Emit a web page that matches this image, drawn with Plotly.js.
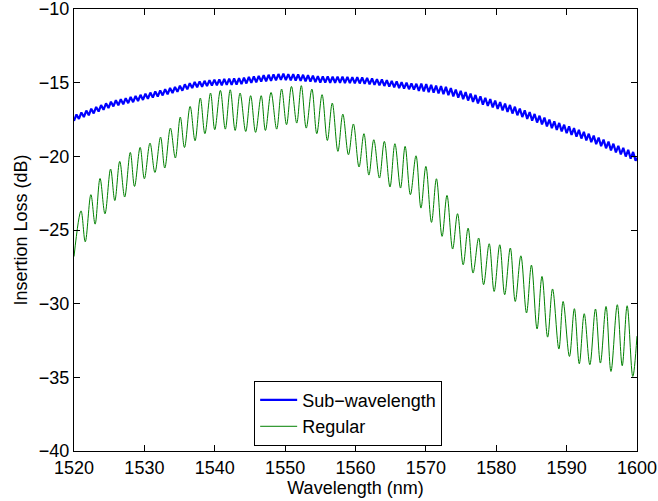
<!DOCTYPE html>
<html>
<head>
<meta charset="utf-8">
<script src="https://cdn.plot.ly/plotly-3.0.1.min.js"></script>
<style>html,body{margin:0;padding:0;background:#fff;}#chart{width:658px;height:501px;}</style>
</head>
<body>
<div id="chart"></div>
<script>
// Sub-wavelength grating coupler: wavelength (nm) and insertion loss (dB), alternating troughs/peaks
const subWavelengthNm = [
1520,1520.35,1520.7,1521.05,1521.4,1521.75,1522.1,1522.45,1522.8,1523.15,1523.5,1523.85,1524.2,1524.55,1524.9,1525.25,1525.6,1525.95,1526.3,1526.65,
1527,1527.35,1527.7,1528.05,1528.4,1528.75,1529.1,1529.45,1529.8,1530.15,1530.5,1530.85,1531.2,1531.55,1531.9,1532.25,1532.6,1532.95,1533.3,1533.65,
1534,1534.35,1534.7,1535.05,1535.4,1535.75,1536.1,1536.45,1536.8,1537.15,1537.5,1537.85,1538.2,1538.55,1538.9,1539.25,1539.6,1539.95,1540.3,1540.65,
1541,1541.35,1541.7,1542.05,1542.4,1542.75,1543.1,1543.45,1543.8,1544.15,1544.5,1544.85,1545.2,1545.55,1545.9,1546.25,1546.6,1546.95,1547.3,1547.65,
1548,1548.35,1548.7,1549.05,1549.4,1549.75,1550.1,1550.45,1550.8,1551.15,1551.5,1551.85,1552.2,1552.55,1552.9,1553.25,1553.6,1553.95,1554.3,1554.65,
1555,1555.35,1555.7,1556.05,1556.4,1556.75,1557.1,1557.45,1557.8,1558.15,1558.5,1558.85,1559.2,1559.55,1559.9,1560.25,1560.6,1560.95,1561.3,1561.65,
1562,1562.35,1562.7,1563.05,1563.4,1563.75,1564.1,1564.45,1564.8,1565.15,1565.5,1565.85,1566.2,1566.55,1566.9,1567.25,1567.6,1567.95,1568.3,1568.65,
1569,1569.35,1569.7,1570.05,1570.4,1570.75,1571.1,1571.45,1571.8,1572.15,1572.5,1572.85,1573.2,1573.55,1573.9,1574.25,1574.6,1574.95,1575.3,1575.65,
1576,1576.35,1576.7,1577.05,1577.4,1577.75,1578.1,1578.45,1578.8,1579.15,1579.5,1579.85,1580.2,1580.55,1580.9,1581.25,1581.6,1581.95,1582.3,1582.65,
1583,1583.35,1583.7,1584.05,1584.4,1584.75,1585.1,1585.45,1585.8,1586.15,1586.5,1586.85,1587.2,1587.55,1587.9,1588.25,1588.6,1588.95,1589.3,1589.65,
1590,1590.35,1590.7,1591.05,1591.4,1591.75,1592.1,1592.45,1592.8,1593.15,1593.5,1593.85,1594.2,1594.55,1594.9,1595.25,1595.6,1595.95,1596.3,1596.65,
1597,1597.35,1597.7,1598.05,1598.4,1598.75,1599.1,1599.45,1599.8,1600
];
const subWavelengthDb = [
-17.59,-17.15,-17.46,-17.02,-17.33,-16.89,-17.21,-16.76,-17.08,-16.64,-16.96,-16.52,-16.84,-16.40,-16.72,-16.29,-16.61,-16.19,-16.53,-16.12,
-16.46,-16.05,-16.39,-15.97,-16.32,-15.90,-16.24,-15.82,-16.17,-15.75,-16.09,-15.67,-16.01,-15.59,-15.94,-15.52,-15.86,-15.44,-15.78,-15.36,
-15.70,-15.29,-15.62,-15.20,-15.54,-15.11,-15.45,-15.03,-15.36,-14.95,-15.31,-14.91,-15.27,-14.87,-15.23,-14.83,-15.19,-14.79,-15.17,-14.78,
-15.17,-14.74,-15.15,-14.72,-15.14,-14.71,-15.12,-14.69,-15.09,-14.65,-15.05,-14.61,-15.01,-14.57,-14.97,-14.53,-14.93,-14.49,-14.90,-14.46,
-14.87,-14.43,-14.84,-14.41,-14.81,-14.39,-14.82,-14.41,-14.83,-14.42,-14.85,-14.44,-14.87,-14.46,-14.90,-14.49,-14.93,-14.52,-14.96,-14.55,
-14.99,-14.57,-14.99,-14.57,-15.00,-14.58,-15.00,-14.59,-15.01,-14.59,-15.02,-14.60,-15.03,-14.62,-15.04,-14.63,-15.05,-14.64,-15.08,-14.67,
-15.11,-14.71,-15.15,-14.75,-15.18,-14.78,-15.22,-14.82,-15.26,-14.87,-15.31,-14.91,-15.36,-14.96,-15.40,-15.00,-15.44,-15.04,-15.47,-15.07,
-15.56,-15.06,-15.59,-15.09,-15.64,-15.14,-15.68,-15.19,-15.73,-15.23,-15.78,-15.28,-15.84,-15.36,-15.93,-15.46,-16.02,-15.55,-16.12,-15.64,
-16.21,-15.74,-16.30,-15.83,-16.40,-15.92,-16.49,-16.02,-16.58,-16.11,-16.68,-16.21,-16.78,-16.31,-16.88,-16.41,-16.98,-16.51,-17.09,-16.63,
-17.21,-16.75,-17.33,-16.87,-17.45,-16.99,-17.57,-17.12,-17.70,-17.24,-17.83,-17.37,-17.96,-17.50,-18.08,-17.62,-18.20,-17.73,-18.31,-17.85,
-18.43,-17.96,-18.54,-18.08,-18.66,-18.20,-18.79,-18.33,-18.92,-18.46,-19.04,-18.59,-19.17,-18.72,-19.31,-18.86,-19.45,-19.00,-19.59,-19.14,
-19.73,-19.28,-19.87,-19.42,-20.01,-19.56,-20.15,-19.70,-20.29,-20.10
];

// Regular grating coupler: wavelength (nm) and insertion loss (dB) at fringe peaks/troughs
const regularNm = [
1520,1521,1521.6,1522.4,1523,1523.7,1524.4,1525.2,1525.8,1526.5,1527.2,1528,1528.6,1529.4,1530,1530.8,1531.5,1532.3,1532.9,1533.7,
1534.4,1535.1,1535.7,1536.5,1537.2,1537.95,1538.6,1539.4,1540,1540.8,1541.5,1542.2,1542.9,1543.6,1544.4,1545.1,1545.8,1546.6,1547.2,1548,
1548.8,1549.5,1550.2,1550.9,1551.65,1552.3,1553,1553.8,1554.5,1555.25,1556,1556.7,1557.5,1558.2,1559,1559.7,1560.5,1561.2,1561.9,1562.6,
1563.4,1564.1,1564.9,1565.6,1566.4,1567.05,1567.8,1568.6,1569.3,1570,1570.8,1571.5,1572.3,1573,1573.8,1574.5,1575.3,1576,1576.7,1577.5,
1578.2,1579,1579.7,1580.5,1581.2,1582,1582.7,1583.5,1584.3,1585,1585.8,1586.5,1587.3,1588,1588.9,1589.5,1590.4,1591.1,1591.8,1592.5,
1593.3,1594.1,1594.8,1595.6,1596.3,1597.2,1597.9,1598.6,1599.4,1600
];
const regularDb = [
-26.8,-23.7,-25.8,-22.6,-24.6,-21.5,-23.9,-20.86,-23.0,-20.34,-22.76,-19.73,-22.04,-19.39,-21.52,-19.1,-21.09,-18.69,-20.79,-18.08,
-20.11,-17.33,-19.4,-16.61,-18.94,-16.04,-18.46,-15.7,-18.19,-15.52,-18.15,-15.48,-18.24,-15.7,-18.31,-15.88,-18.37,-15.88,-18.24,-15.66,
-18.15,-15.43,-17.85,-15.25,-17.74,-15.2,-18.08,-15.43,-18.46,-15.81,-18.92,-16.38,-19.66,-17.13,-19.89,-17.8,-20.72,-18.46,-21.27,-18.87,
-21.47,-18.98,-22.08,-19.14,-22.15,-19.32,-22.6,-19.96,-23.51,-20.68,-24.48,-21.52,-25.43,-22.65,-26.29,-23.89,-27.36,-24.87,-27.92,-25.54,
-28.71,-25.93,-29.17,-26.0,-29.39,-26.22,-29.85,-26.75,-30.63,-27.38,-31.72,-28.15,-32.27,-29.0,-33.08,-29.85,-33.58,-30.34,-34.08,-30.68,
-34.14,-30.36,-34.03,-30.19,-34.6,-30.07,-34.21,-30.14,-34.94,-32.2
];

const seriesNames = ['Sub\u2212wavelength', 'Regular'];
const xTicks = [1520,1530,1540,1550,1560,1570,1580,1590,1600];
const yTicks = [-40,-35,-30,-25,-20,-15,-10];

const FONT = 'Liberation Sans, Arial, Helvetica, sans-serif';

const traces = [
  {x: subWavelengthNm, y: subWavelengthDb, name: seriesNames[0], type: 'scatter', mode: 'lines',
   line: {color: '#0000ff', width: 2.2, shape: 'linear'}},
  {x: regularNm, y: regularDb, name: seriesNames[1], type: 'scatter', mode: 'lines',
   line: {color: '#008000', width: 1, shape: 'spline', smoothing: 1}}
];

const axisCommon = {
  showgrid: false, zeroline: false, showline: true, linecolor: '#000', linewidth: 1,
  mirror: 'allticks', ticks: 'inside', ticklen: 6, tickwidth: 1, tickcolor: '#000',
  ticklabeloverflow: 'allow',
  tickfont: {family: FONT, size: 18, color: '#000'}
};

const layout = {
  width: 658, height: 501,
  margin: {l: 74, r: 21, t: 9, b: 50, pad: 0},
  paper_bgcolor: '#fff', plot_bgcolor: '#fff',
  font: {family: FONT, size: 18, color: '#000'},
  showlegend: true,
  legend: {x: 0.32, y: 0.012, xanchor: 'left', yanchor: 'bottom',
           bgcolor: '#fff', bordercolor: '#000', borderwidth: 1,
           font: {family: FONT, size: 18, color: '#000'}, tracegroupgap: 0, itemwidth: 37},
  xaxis: Object.assign({}, axisCommon, {
    range: [1520, 1600], tickvals: xTicks, ticktext: xTicks.map(String),
    title: {text: 'Wavelength (nm)', font: {family: FONT, size: 18, color: '#000'}, standoff: 2}
  }),
  yaxis: Object.assign({}, axisCommon, {
    range: [-40, -9.995], tickvals: yTicks, ticktext: yTicks.map(v => v < 0 ? '\u2212' + Math.abs(v) : String(v)),
    title: {text: 'Insertion Loss (dB)', font: {family: FONT, size: 18, color: '#000'}, standoff: 6}
  })
};

Plotly.newPlot('chart', traces, layout, {staticPlot: true, displayModeBar: false});
</script>
</body>
</html>
